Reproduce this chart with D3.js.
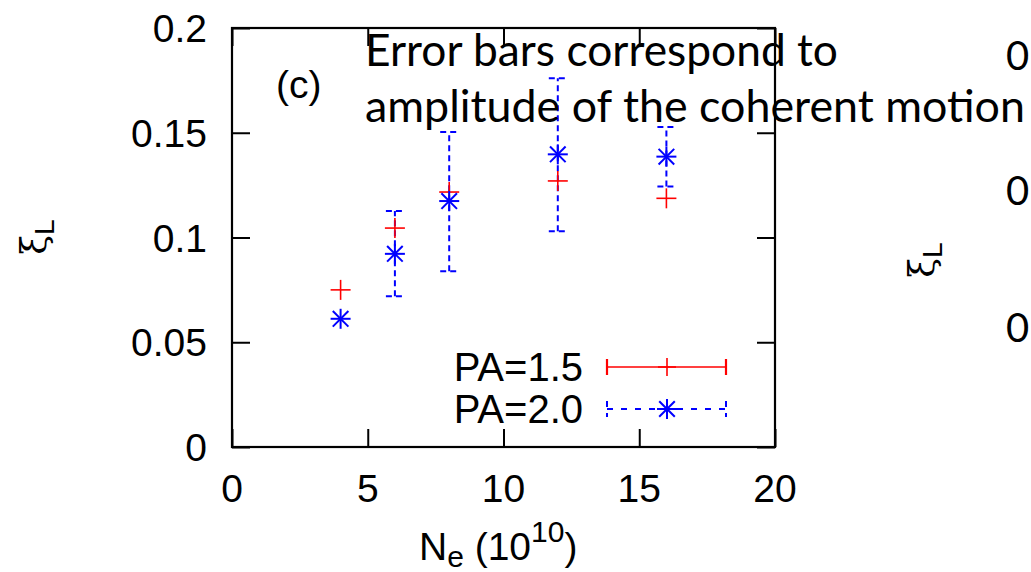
<!DOCTYPE html>
<html>
<head>
<meta charset="utf-8">
<script src="https://cdn.jsdelivr.net/npm/d3@7"></script>
<style>
  html, body { margin: 0; padding: 0; background: #fff; overflow: hidden; }
  svg { display: block; }
  .tick-label { font-family: "Liberation Sans", Arial, sans-serif; font-size: 39px; fill: #000; }
</style>
</head>
<body>
<div class="grafico"></div>
<script>
// datos
var Ne = [4, 6, 8, 12, 16];
var xiPA15 = [0.075, 0.1045, 0.1217, 0.127, 0.1187];
var xiPA20 = [0.0612, 0.0922, 0.1174, 0.1397, 0.1386];
var bajoPA20 = [0.0612, 0.0719, 0.0839, 0.103, 0.1243];
var altoPA20 = [0.0612, 0.1126, 0.1504, 0.176, 0.1528];
var ticksX = [0, 5, 10, 15, 20];
var ticksY = [0, 0.05, 0.1, 0.15, 0.2];
var etiquetasY = ["0", "0.05", "0.1", "0.15", "0.2"];
var leyenda = ["PA=1.5", "PA=2.0"];
var nota = ["Error bars correspond to", "amplitude of the coherent motion"];
var ticksPanelDerecho = ["0", "0", "0"];

var width = 1031;
var height = 572;

var svg = d3
  .select('.grafico')
  .append('svg')
  .attr('width', width)
  .attr('height', height);

var xScale = d3.scaleLinear().domain([0, 20]).range([232, 775]);
var yScale = d3.scaleLinear().domain([0, 0.2]).range([447, 28]);

var largoTick = 18;

// ejes con ticks hacia adentro en los cuatro lados
svg.append('g')
  .attr('transform', 'translate(0,' + yScale(0) + ')')
  .call(d3.axisBottom(xScale).tickValues(ticksX).tickSize(-largoTick).tickFormat(''))
  .call(g => g.select('.domain').remove());

svg.append('g')
  .attr('transform', 'translate(0,' + yScale(0.2) + ')')
  .call(d3.axisTop(xScale).tickValues(ticksX).tickSize(-largoTick).tickFormat(''))
  .call(g => g.select('.domain').remove());

svg.append('g')
  .attr('transform', 'translate(' + xScale(0) + ',0)')
  .call(d3.axisLeft(yScale).tickValues(ticksY).tickSize(-largoTick).tickFormat(''))
  .call(g => g.select('.domain').remove());

svg.append('g')
  .attr('transform', 'translate(' + xScale(20) + ',0)')
  .call(d3.axisRight(yScale).tickValues(ticksY).tickSize(-largoTick).tickFormat(''))
  .call(g => g.select('.domain').remove());

svg.selectAll('.tick line')
  .attr('stroke', '#000')
  .attr('stroke-width', 2);

// marco
svg.append('rect')
  .attr('x', xScale(0))
  .attr('y', yScale(0.2))
  .attr('width', xScale(20) - xScale(0))
  .attr('height', yScale(0) - yScale(0.2))
  .attr('fill', 'none')
  .attr('stroke', '#000')
  .attr('stroke-width', 2.2);

// etiquetas de los ticks
svg.selectAll('.ytl')
  .data(ticksY)
  .enter()
  .append('text')
  .attr('class', 'tick-label')
  .attr('x', 207)
  .attr('y', function (d) { return yScale(d) + 14; })
  .attr('text-anchor', 'end')
  .text(function (d, i) { return etiquetasY[i]; });

svg.selectAll('.xtl')
  .data(ticksX)
  .enter()
  .append('text')
  .attr('class', 'tick-label')
  .attr('x', function (d) { return xScale(d); })
  .attr('y', 502)
  .attr('text-anchor', 'middle')
  .text(function (d) { return d; });

// titulo de ejes
var xLabel = svg.append('text')
  .attr('class', 'tick-label')
  .attr('x', 419)
  .attr('y', 560);
xLabel.append('tspan').text('N');
xLabel.append('tspan').attr('dy', 7).style('font-size', '30px').text('e');
xLabel.append('tspan').attr('dy', -7).text(' (10');
xLabel.append('tspan').attr('dy', -18).style('font-size', '30px').text('10');
xLabel.append('tspan').attr('dy', 18).text(')');

function etiquetaXi(cx, cy) {
  var t = svg.append('text')
    .attr('transform', 'translate(' + cx + ',' + cy + ') rotate(-90)')
    .attr('text-anchor', 'middle')
    .attr('font-size', 40);
  t.append('tspan').attr('font-family', '"DejaVu Serif", serif').attr('font-size', 36).text('ξ');
  t.append('tspan').attr('font-family', '"Liberation Sans", sans-serif').attr('font-size', 28).attr('dy', 8).text('L');
}
etiquetaXi(46, 237);
etiquetaXi(934, 260);

svg.append('text')
  .attr('class', 'tick-label')
  .attr('x', 276)
  .attr('y', 98)
  .text('(c)');

// marcadores
var rojo = '#ff0000';
var azul = '#0000ff';

function cruz(g, x, y, color, r) {
  g.append('line').attr('x1', x - r).attr('x2', x + r).attr('y1', y).attr('y2', y);
  g.append('line').attr('x1', x).attr('x2', x).attr('y1', y - r).attr('y2', y + r);
  g.attr('stroke', color);
}

function estrella(g, x, y, color, r) {
  cruz(g, x, y, color, r);
  var d = r * 0.78;
  g.append('line').attr('x1', x - d).attr('x2', x + d).attr('y1', y - d).attr('y2', y + d);
  g.append('line').attr('x1', x - d).attr('x2', x + d).attr('y1', y + d).attr('y2', y - d);
}

// barras de error PA=2.0
var capa = 9;
var barras = svg.append('g')
  .attr('stroke', azul)
  .attr('stroke-width', 2)
  .attr('stroke-dasharray', '6,4')
  .attr('fill', 'none');

Ne.forEach(function (n, i) {
  if (altoPA20[i] === bajoPA20[i]) return;
  var x = xScale(n);
  barras.append('line')
    .attr('x1', x).attr('x2', x)
    .attr('y1', yScale(bajoPA20[i])).attr('y2', yScale(altoPA20[i]));
  [bajoPA20[i], altoPA20[i]].forEach(function (v) {
    barras.append('line')
      .attr('x1', x - capa).attr('x2', x + capa)
      .attr('y1', yScale(v)).attr('y2', yScale(v));
  });
});

Ne.forEach(function (n, i) {
  var g = svg.append('g').attr('stroke-width', 1.6);
  cruz(g, xScale(n), yScale(xiPA15[i]), rojo, 10);
});

Ne.forEach(function (n, i) {
  var g = svg.append('g').attr('stroke-width', 2);
  estrella(g, xScale(n), yScale(xiPA20[i]), azul, 10);
});

// leyenda
var leyX1 = 607, leyX2 = 726, leyXm = 667;
var leyY = [367, 409];

svg.selectAll('.ley')
  .data(leyenda)
  .enter()
  .append('text')
  .attr('class', 'tick-label')
  .style('font-size', '40px')
  .attr('x', 583)
  .attr('y', function (d, i) { return leyY[i] + 14; })
  .attr('text-anchor', 'end')
  .text(function (d) { return d; });

var l1 = svg.append('g').attr('stroke', rojo).attr('stroke-width', 1.6);
l1.append('line').attr('x1', leyX1).attr('x2', leyX2).attr('y1', leyY[0]).attr('y2', leyY[0]);
[leyX1, leyX2].forEach(function (x) {
  l1.append('line').attr('x1', x).attr('x2', x).attr('y1', leyY[0] - 8).attr('y2', leyY[0] + 8).attr('stroke-width', 2.2);
});
cruz(l1, leyXm, leyY[0], rojo, 9);

var l2 = svg.append('g').attr('stroke', azul).attr('stroke-width', 2);
l2.append('line').attr('x1', leyX1).attr('x2', leyX2).attr('y1', leyY[1]).attr('y2', leyY[1]).attr('stroke-dasharray', '6,8');
[leyX1, leyX2].forEach(function (x) {
  l2.append('line').attr('x1', x).attr('x2', x).attr('y1', leyY[1] - 8).attr('y2', leyY[1] + 8).attr('stroke-dasharray', '6,6');
});
estrella(l2, leyXm, leyY[1], azul, 10);

// nota superpuesta
var largos = [473, 660];
svg.selectAll('.nota')
  .data(nota)
  .enter()
  .append('text')
  .attr('x', 365)
  .attr('y', function (d, i) { return 66 + i * 56; })
  .attr('font-family', 'Lato, "Open Sans", sans-serif')
  .attr('font-size', 44)
  .attr('textLength', function (d, i) { return largos[i]; })
  .attr('lengthAdjust', 'spacingAndGlyphs')
  .attr('fill', '#000')
  .text(function (d) { return d; });

// restos del panel de la derecha
var yDerecha = [70, 205, 342];
svg.selectAll('.der')
  .data(ticksPanelDerecho)
  .enter()
  .append('text')
  .attr('x', 1006)
  .attr('y', function (d, i) { return yDerecha[i]; })
  .attr('font-family', 'Lato, "Open Sans", sans-serif')
  .attr('font-size', 40)
  .attr('fill', '#000')
  .text(function (d) { return d; });
</script>
</body>
</html>
